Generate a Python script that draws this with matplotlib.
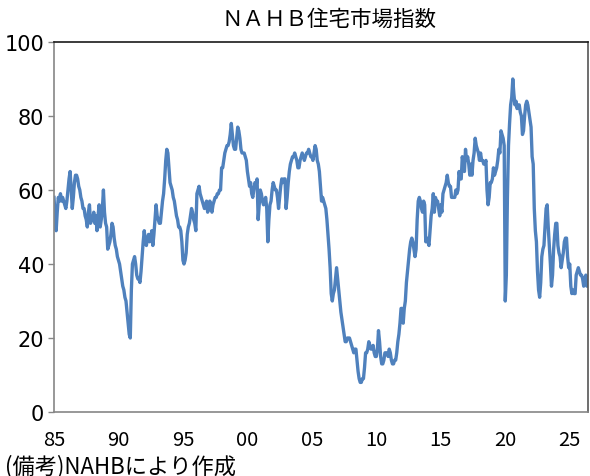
import matplotlib
matplotlib.use("Agg")
import matplotlib.pyplot as plt
import numpy as np

plt.rcParams['font.family'] = ['Noto Sans CJK JP', 'DejaVu Sans']

# NAHB housing market index, monthly from 1985
hmi = [
    58, 53, 49, 54, 58, 57, 59, 57, 58, 57, 56, 55,
    57, 60, 63, 65, 60, 55, 58, 62, 64, 64, 63, 61,
    60, 58, 57, 55, 55, 53, 52, 50, 54, 56, 51, 52,
    52, 54, 51, 53, 49, 53, 56, 50, 52, 55, 60, 54,
    51, 50, 44, 45, 46, 48, 51, 50, 47, 45, 44, 42,
    41, 40, 38, 36, 34, 33, 31, 30, 27, 24, 21, 20,
    33, 40, 41, 42, 40, 37, 36, 36, 35, 38, 42, 46,
    49, 46, 45, 47, 48, 46, 47, 49, 45, 48, 52, 56,
    53, 52, 51, 51, 54, 57, 59, 63, 68, 71, 70, 66,
    62, 61, 60, 58, 57, 55, 53, 52, 50, 50, 49, 46,
    41, 40, 41, 43, 48, 50, 51, 53, 55, 54, 52, 51,
    49, 59, 60, 61, 59, 58, 57, 56, 55, 56, 57, 54,
    55, 57, 56, 54, 56, 57, 58, 58, 59, 59, 60, 60,
    66, 66, 68, 70, 71, 72, 72, 73, 75, 78, 75, 72,
    71, 71, 74, 77, 76, 74, 71, 70, 70, 70, 69, 68,
    65, 63, 61, 62, 59, 58, 60, 62, 61, 63, 52, 56,
    60, 59, 57, 56, 57, 58, 55, 46, 52, 56, 57, 60,
    62, 61, 60, 60, 58, 55, 58, 61, 63, 62, 63, 63,
    55, 58, 62, 65, 67, 68, 69, 69, 70, 69, 68, 66,
    66, 68, 69, 70, 69, 68, 69, 70, 70, 71, 70, 69,
    69, 68, 70, 72, 71, 68, 67, 65, 61, 57, 58, 57,
    56, 55, 52, 48, 44, 39, 32, 30, 32, 33, 36, 39,
    36, 33, 30, 27, 25, 23, 21, 19, 19, 20, 20, 20,
    19, 18, 17, 16, 17, 17, 14, 11, 9, 8, 8, 9,
    9, 12, 16, 16, 17, 19, 18, 17, 17, 18, 16, 15,
    15, 17, 22, 19, 15, 13, 13, 14, 16, 16, 16, 15,
    17, 16, 14, 13, 13, 14, 14, 16, 19, 21, 24, 28,
    28, 24, 28, 30, 35, 38, 41, 44, 46, 47, 46, 44,
    42, 44, 52, 57, 58, 57, 55, 54, 57, 56, 46, 47,
    46, 45, 49, 53, 55, 59, 54, 58, 57, 57, 55, 53,
    56, 54, 59, 60, 61, 62, 64, 62, 61, 61, 58, 58,
    58, 58, 60, 59, 60, 65, 63, 63, 69, 67, 65, 71,
    68, 69, 67, 64, 67, 64, 68, 70, 74, 72, 71, 70,
    68, 70, 68, 68, 67, 67, 68, 60, 56, 58, 62, 62,
    63, 66, 64, 65, 66, 68, 71, 70, 76, 75, 74, 72,
    30, 37, 58, 72, 78, 83, 85, 90, 86, 83, 84, 82,
    83, 83, 81, 80, 75, 76, 80, 83, 84, 83, 81, 79,
    77, 69, 67, 55, 49, 46, 38, 33, 31, 35, 42, 44,
    45, 50, 55, 56, 50, 45, 40, 34, 37, 44, 48, 51,
    51, 45, 43, 42, 39, 41, 43, 46, 47, 47, 42, 39,
    40, 34, 32, 33, 32, 32, 37, 38, 39, 38, 37, 37,
    36, 34, 36, 37, 34, 35,
]
tick_years = [1985, 1990, 1995, 2000, 2005, 2010, 2015, 2020, 2025]
tick_labels = ['85', '90', '95', '00', '05', '10', '15', '20', '25']
y_ticks = [0, 20, 40, 60, 80, 100]

x = np.arange(len(hmi))

fig = plt.figure(figsize=(5.9, 4.77), dpi=100)
ax = fig.add_axes([54 / 590, 1 - 413 / 477, 534 / 590, 370 / 477])

ax.plot(x, hmi, color='#4F81BD', lw=2.4, solid_joinstyle='round')

ax.set_xlim(0, len(hmi) - 1)
ax.set_ylim(0, 100)
ax.set_yticks(y_ticks)
ax.set_xticks([(yr - 1985) * 12 for yr in tick_years])
ax.set_xticklabels(tick_labels)

ax.tick_params(axis='y', direction='out', length=4, width=1, color='#868686',
               labelsize=15, pad=3)
ax.tick_params(axis='x', length=0, labelsize=14.5, pad=12)
for lab in ax.get_yticklabels():
    lab.set_family(['DejaVu Sans'])

ax.spines['left'].set_color('#868686')
ax.spines['bottom'].set_color('#868686')
ax.spines['top'].set_color('#1a1a1a')
ax.spines['right'].set_color('#555555')
for s in ax.spines.values():
    s.set_linewidth(1.2)

fig.text(0.558, 0.958, 'ＮＡＨＢ住宅市場指数', ha='center', va='center', fontsize=15.5)
fig.text(0.008, 0.022, '(備考)NAHBにより作成', ha='left', va='center', fontsize=16)

fig.savefig('out.png', dpi=100)
